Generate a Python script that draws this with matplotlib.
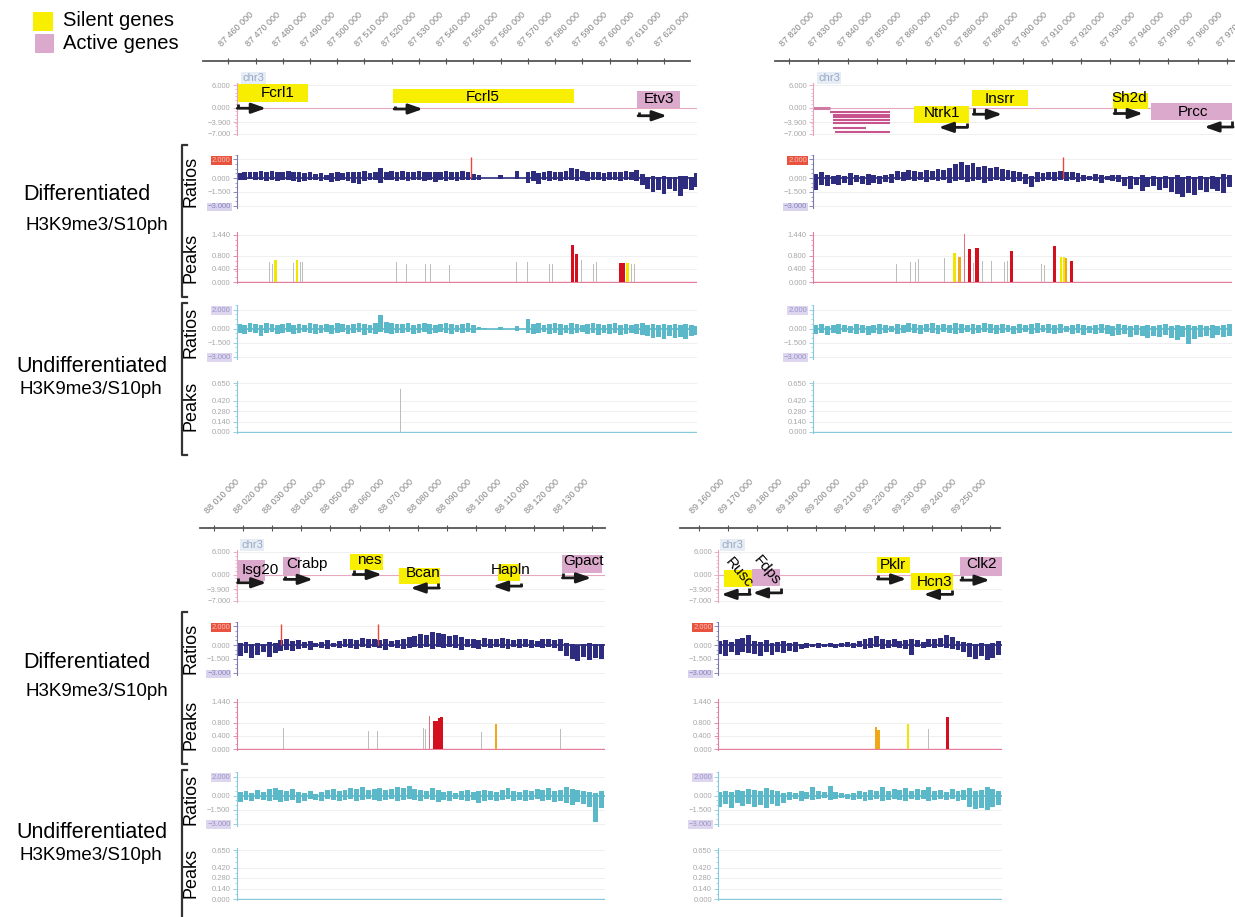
import numpy as np
import matplotlib
matplotlib.use('Agg')
import matplotlib.pyplot as plt
import matplotlib.transforms as mtransforms
from matplotlib.patches import Rectangle
from matplotlib.ticker import MultipleLocator

plt.rcParams['font.family'] = ['Liberation Sans', 'DejaVu Sans']

#==================================================================================================================#
# DATA (genomic positions in kb on chr3, values as read from the browser tracks)
#==================================================================================================================#

# ruler ticks of each panel (A: top-left, B: top-right, C: bottom-left, D: bottom-right)
TICKS_A = list(range(87460, 87621, 10))
TICKS_B = list(range(87820, 87971, 10))
TICKS_C = list(range(88010, 88141, 10))
TICKS_D = list(range(89160, 89261, 10))
N_LABELLED = [17, 16, 13, 10]

# visible window of the tracks and of the ruler line
VIEW_START = [87463.2, 87828.2, 88017.8, 89166.5]
VIEW_END = [87632.0, 87971.7, 88144.3, 89264.0]
RULER_START = [87450.8, 87815.1, 88005.2, 89153.4]
RULER_END = [87629.5, 87975.0, 88144.3, 89263.4]

# genes: name, start, end, box low, box high, status, strand, tss, arrow top, arrow bottom, label x, label y, rotation
GENES_A = [
    ('Fcrl1', 87463.2, 87489.3, 1.5, 6.2, 'silent', 1, 87463.6, 0.9, -0.2, 87478.1, 3.9, 0),
    ('Fcrl5', 87520.5, 87587.0, 1.2, 4.9, 'silent', 1, 87521.2, 0.4, -0.4, 87553.6, 2.8, 0),
    ('Etv3', 87610.1, 87625.9, -0.1, 4.4, 'active', 1, 87610.8, -1.3, -2.2, 87618.2, 2.2, 0),
]
GENES_B = [
    ('Ntrk1', 87862.8, 87881.7, -4.2, 0.3, 'silent', -1, 87880.8, -4.0, -5.3, 87872.3, -1.5, 0),
    ('Insrr', 87882.5, 87902.0, 0.3, 4.6, 'silent', 1, 87883.4, 0.0, -1.8, 87892.3, 2.2, 0),
    ('Sh2d', 87931.1, 87943.1, -0.5, 4.0, 'silent', 1, 87931.7, 0.0, -1.6, 87936.6, 2.4, 0),
    ('Prcc', 87943.9, 87971.7, -3.3, 1.2, 'active', -1, 87971.9, -3.7, -5.2, 87958.5, -1.1, 0),
]
GENES_C = [
    ('Isg20', 88017.8, 88027.5, -1.8, 4.0, 'active', 1, 88018.4, -0.9, -2.2, 88025.8, 1.3, 0),
    ('Crabp', 88033.8, 88039.5, 0.0, 4.6, 'active', 1, 88034.4, -0.5, -1.3, 88041.8, 2.8, 0),
    ('nes', 88056.7, 88068.2, 1.3, 5.5, 'silent', 1, 88058.1, 1.3, 0.0, 88063.4, 4.0, 0),
    ('Bcan', 88073.7, 88087.6, -2.4, 1.8, 'silent', -1, 88087.1, -2.2, -3.6, 88081.7, 0.3, 0),
    ('Hapln', 88107.7, 88115.1, -1.8, 2.7, 'silent', -1, 88115.4, -2.2, -3.1, 88111.9, 1.1, 0),
    ('Gpact', 88129.4, 88143.2, 0.4, 5.3, 'active', 1, 88130.0, 0.4, -0.9, 88136.9, 3.5, 0),
]
GENES_D = [
    ('Rusc', 89168.5, 89178.0, -3.3, 1.3, 'silent', -1, 89177.2, -3.6, -5.3, 89173.6, 0.45, -50),
    ('Fdps', 89178.0, 89187.8, -3.1, 1.5, 'active', -1, 89188.0, -3.6, -4.9, 89183.4, 1.0, -50),
    ('Pklr', 89221.0, 89232.5, 0.5, 4.7, 'silent', 1, 89221.6, 0.0, -1.2, 89226.7, 2.5, 0),
    ('Hcn3', 89232.7, 89247.4, -4.0, 0.4, 'silent', -1, 89246.8, -4.0, -5.3, 89241.1, -2.0, 0),
    ('Clk2', 89249.7, 89264.0, -0.3, 4.7, 'active', 1, 89250.3, -0.3, -1.5, 89257.2, 2.7, 0),
]

# transcript models drawn as thin lines in panel B
TX_START_B = [87828.2, 87834.0, 87835.0, 87835.0, 87835.0, 87835.0, 87835.0, 87835.7]
TX_END_B = [87834.0, 87854.5, 87854.5, 87854.5, 87854.5, 87854.5, 87846.3, 87854.5]
TX_VAL_B = [0.0, -1.3, -2.0, -2.6, -3.3, -4.1, -5.5, -6.4]

# ratio tracks: 2 kb bins, upper / lower value of each bin (in tenths)
RATIO_START = [87464, 87829, 88019, 89167]
RATIO_STEP = 2.0

DIFF_HI_A = [5, 6, 7, 6, 8, 7, 8, 6, 7, 8, 6, 7, 5, 6, 4, 5, 3, 5, 6, 5, 6, 7, 6, 8, 5, 7, 11, 7, 8, 7,
             8, 6, 7, 8, 6, 7, 6, 7, 8, 6, 7, 8, 7, 4, 3, 0, 0, 0, 3, 0, 0, 8, 0, 7, 8, 5, 7, 8, 6, 6,
             8, 11, 10, 8, 7, 6, 7, 5, 6, 7, 6, 8, 7, 9, 4, 1, 2, 1, 2, 1, 1, 2, 2, 1, 5]
DIFF_LO_A = [-2, -2, -1, -2, -2, -3, -2, -3, -2, -2, -3, -4, -3, -2, -2, -3, -2, -4, -3, -2,
             -3, -5, -6, -3, -2, -2, -5, -2, -2, -3, -2, -3, -2, -2, -3, -2, -4, -2, -3, -2,
             -3, -2, -2, -2, -2, 0, 0, 0, -1, 0, 0, -1, 0, -5, -3, -6, -2, -3, -2, -3,
             -2, -2, -3, -2, -3, -2, -2, -3, -2, -2, -3, -2, -2, -3, -8, -12, -15, -13, -17, -12,
             -14, -19, -12, -13, -10]
DIFF_HI_B = [4, 6, 3, 2, 3, 2, 5, 3, 2, 4, 3, 2, 3, 4,
             8, 7, 9, 8, 7, 9, 8, 10, 9, 11, 15, 17, 14, 16, 12, 13, 11, 12, 10, 9, 8, 7, 4, 2,
             6, 5, 7, 6, 8, 7, 6, 5, 3, 2, 4, 3, 2, 3, 3,
             1, 2, 1, 3, 1, 2, 1, 2, 1, 3, 1, 2, 1, 2, 1, 2, 1, 4, 3]
DIFF_LO_B = [-13, -7, -9, -6, -8, -5, -7, -4, -6, -8, -5, -6, -4, -5,
             -2, -3, -2, -3, -2, -4, -2, -3, -2, -5, -3, -2, -4, -3, -2, -5, -3, -2, -3, -2, -4, -3, -6, -10,
             -4, -3, -2, -3, -2, -3, -2, -4, -3, -2, -3, -5, -2, -3, -4,
             -9, -12, -8, -14, -10, -9, -13, -11, -15, -17, -20, -16, -18, -13, -15, -12, -14, -16, -10]
DIFF_HI_C = [2, 3, 1, 2, 1, 3, 2, 5, 6, 4, 5, 3, 4, 2, 3, 5, 2, 4,
             6, 7, 5, 8, 6, 7, 5, 6, 4, 5, 6, 9, 10, 12, 11, 14, 13, 12, 10, 11, 9,
             6, 7, 5, 8, 6, 7, 8, 6, 5, 7, 6, 5, 4, 6, 7, 5, 6, 2, 1, 0, 1, 2, 1, 1]
DIFF_LO_C = [-12, -9, -14, -11, -8, -13, -9, -6, -5, -6, -4, -3, -5, -2, -3, -4, -2, -3,
             -2, -3, -4, -2, -3, -2, -3, -5, -2, -3, -4, -3, -2, -3, -2, -4, -2, -3, -2, -3, -5,
             -2, -3, -4, -2, -3, -2, -3, -4, -2, -3, -2, -3, -2, -3, -2, -3, -6,
             -12, -15, -17, -13, -16, -14, -15]
DIFF_HI_D = [4, 5, 3, 6, 8, 11, 4, 3, 5, 2, 3, 4, 2, 3, 1, 2, 1, 2, 1, 2, 1, 2, 3, 2, 4, 6, 8, 10, 7, 5,
             6, 4, 5, 6, 5, 3, 6, 7, 8, 11, 9, 4, 3, 2, 1, 2, 1, 2, 4]
DIFF_LO_D = [-10, -12, -8, -11, -7, -9, -10, -12, -8, -11, -7, -9, -6, -8, -4, -3, -2, -3, -2, -2,
             -3, -2, -2, -3, -2, -4, -3, -2, -4, -3, -2, -3, -4, -11, -2, -3, -2, -3, -2, -3,
             -4, -5, -8, -13, -15, -12, -16, -14, -11]

UND_HI_A = [5, 4, 6, 5, 4, 6, 5, 4, 5, 6, 4, 5, 4, 6, 5, 4, 5, 4, 6, 5, 4, 5, 6, 5, 4, 6, 14, 7, 6, 5,
            5, 6, 4, 5, 6, 5, 4, 5, 6, 5, 4, 5, 6, 4, 2, 1, 0, 0, 2, 0, 0, 3, 0,
            10, 5, 6, 4, 5, 6, 5, 4, 6, 5, 4, 5, 6, 5, 4, 5, 6, 4, 5, 4, 5, 6, 4, 5, 4, 5, 4, 5, 4, 5, 4, 3]
UND_LO_A = [-5, -6, -4, -5, -8, -5, -4, -6, -5, -4, -6, -5, -4, -5, -6, -5, -4, -6, -5, -4,
            -6, -5, -4, -7, -5, -6, -4, -5, -6, -5, -5, -4, -6, -5, -4, -6, -5, -4, -5, -6, -4, -5, -4, -5, -2, -1,
            0, 0, -2, 0, 0, -3, 0,
            -5, -6, -5, -4, -6, -5, -7, -5, -6, -5, -4, -6, -5, -7, -5, -6, -5, -7, -6, -5,
            -6, -7, -8, -10, -9, -11, -8, -10, -9, -11, -8, -7]
UND_HI_B = [4, 5, 3, 4, 5, 4, 3, 5, 4, 3, 4, 5, 4, 3, 5, 4, 6, 5, 4, 5, 6, 4, 5, 4, 6, 5, 4, 5, 4, 6,
            5, 4, 5, 4, 3, 5, 4, 5, 6, 4, 5, 4, 5, 3, 4, 5, 4, 3, 4, 5, 4, 3, 5, 4, 3, 4, 3, 4, 3, 4,
            5, 3, 4, 3, 4, 3, 4, 3, 4, 3, 4, 5]
UND_LO_B = [-6, -5, -7, -5, -6, -4, -5, -6, -5, -7, -5, -6, -5, -4, -6, -5, -4, -5, -6, -4,
            -5, -6, -4, -5, -6, -5, -4, -6, -5, -4, -5, -6, -5, -4, -6, -5, -4, -6, -5, -4,
            -5, -6, -5, -4, -6, -5, -7, -5, -6, -5, -6, -8, -7, -6, -9, -7, -8, -10, -8, -9,
            -7, -10, -12, -9, -16, -11, -9, -8, -10, -7, -9, -8]
UND_HI_C = [4, 5, 3, 6, 4, 7, 8, 6, 5, 7, 4, 3, 5, 2, 4, 6, 7, 5, 6, 8, 7, 9, 6, 7, 8, 6, 7, 9, 8, 10,
            7, 6, 5, 8, 6, 4, 5, 3, 5, 6, 4, 5, 6, 5, 4, 6, 8, 5, 4, 6, 5, 7, 6, 8, 5, 6, 9, 7, 6, 5,
            4, 3, 5]
UND_LO_C = [-7, -5, -6, -4, -5, -6, -5, -7, -6, -5, -8, -6, -4, -5, -6, -4, -5, -6, -5, -4,
            -6, -5, -4, -5, -6, -5, -4, -6, -5, -4, -5, -6, -4, -5, -7, -5, -6, -4, -5, -6,
            -5, -8, -6, -5, -6, -5, -4, -6, -5, -6, -5, -4, -6, -5, -7, -6, -8, -10, -7, -9,
            -12, -28, -13]
UND_HI_D = [4, 5, 4, 6, 5, 7, 6, 5, 8, 6, 5, 3, 4, 3, 5, 4, 9, 5, 4, 10, 4, 3, 2, 3, 5, 4, 6, 5, 9, 5,
            7, 6, 8, 5, 7, 6, 9, 5, 6, 4, 7, 5, 6, 8, 5, 6, 9, 7, 5]
UND_LO_D = [-12, -9, -13, -8, -11, -9, -12, -10, -13, -9, -11, -8, -5, -4, -6, -4, -5, -4, -3, -5,
            -4, -3, -4, -5, -4, -6, -5, -4, -6, -5, -4, -5, -6, -4, -5, -4, -6, -5, -4, -5,
            -4, -6, -5, -12, -14, -13, -15, -12, -10]

# ratio values above the scale (drawn in red)
OUTLIERS = [[(87549.1, 2.3)], [(87914.0, 2.3)], [(88033.0, 2.3), (88066.5, 2.3)], []]

# peaks: position, height, class (n = not significant, y / o / r = increasing significance, p = thin red)
PEAKS_DIFF_A = [(87475.3, 0.61, 'n'), (87476.3, 0.56, 'n'), (87477.4, 0.66, 'y'), (87483.9, 0.58, 'n'),
                (87485.3, 0.66, 'y'), (87486.6, 0.61, 'n'), (87487.3, 0.60, 'n'), (87521.6, 0.61, 'n'),
                (87525.5, 0.54, 'n'), (87532.6, 0.54, 'n'), (87534.3, 0.54, 'n'), (87541.4, 0.51, 'n'),
                (87565.9, 0.61, 'n'), (87569.9, 0.61, 'n'), (87577.9, 0.56, 'n'), (87578.9, 0.56, 'n'),
                (87586.5, 1.12, 'r'), (87587.9, 0.86, 'r'), (87589.8, 0.68, 'n'), (87594.0, 0.56, 'n'),
                (87595.3, 0.61, 'n'), (87604.1, 0.58, 'r'), (87605.1, 0.58, 'r'), (87606.5, 0.59, 'y'),
                (87608.1, 0.56, 'n'), (87609.0, 0.54, 'n')]
PEAKS_DIFF_B = [(87856.9, 0.55, 'n'), (87861.7, 0.62, 'n'), (87863.3, 0.60, 'n'), (87864.3, 0.70, 'n'),
                (87873.2, 0.74, 'n'), (87876.6, 0.87, 'y'), (87878.4, 0.77, 'o'), (87880.0, 1.47, 'p'),
                (87881.8, 0.99, 'r'), (87883.2, 0.58, 'n'), (87884.4, 1.02, 'r'), (87886.4, 0.65, 'n'),
                (87889.2, 0.65, 'n'), (87893.8, 0.60, 'n'), (87894.9, 0.65, 'n'), (87896.3, 0.94, 'r'),
                (87906.6, 0.55, 'n'), (87907.4, 0.52, 'n'), (87911.0, 1.09, 'r'), (87913.2, 0.77, 'y'),
                (87914.2, 0.77, 'y'), (87914.9, 0.74, 'o'), (87916.9, 0.63, 'r')]
PEAKS_DIFF_C = [(88033.8, 0.65, 'n'), (88063.0, 0.55, 'n'), (88066.2, 0.55, 'n'), (88082.1, 0.63, 'n'),
                (88082.8, 0.60, 'n'), (88084.2, 1.01, 'p'), (88085.7, 0.86, 'r'), (88086.7, 0.86, 'r'),
                (88087.4, 0.94, 'r'), (88088.1, 0.97, 'r'), (88101.9, 0.53, 'n'), (88106.9, 0.76, 'o'),
                (88129.1, 0.60, 'n')]
PEAKS_DIFF_D = [(89220.8, 0.68, 'o'), (89221.7, 0.58, 'o'), (89231.8, 0.76, 'y'), (89238.8, 0.60, 'n'),
                (89245.5, 0.97, 'r')]
PEAKS_UND_A = [(87523.3, 0.58, 'n')]

#==================================================================================================================#
# LAYOUT AND STYLE
#==================================================================================================================#

W, H = 1235, 917
TICK0_PX = [228.3, 789.3, 214.0, 699.3]     # pixel of first ruler tick
PX_PER_KB = [2.723, 2.916, 2.911, 2.907]
Y_OFF = [0, 0, 467, 467]

YELLOW, PINK = '#f7ee00', '#dba9cc'
NAVY, CYAN = '#2e2c7e', '#5bb8c9'
PEAK_COL = {'n': '#bdbdbd', 'y': '#f2e600', 'o': '#f0a818', 'r': '#d4101e', 'p': '#e8707a'}
PEAK_W = {'n': 1.0, 'y': 2.6, 'o': 2.6, 'r': 3.2, 'p': 1.0}
ARROW_PX = 28

fig = plt.figure(figsize=(W / 100, H / 100), dpi=100)


def rect(x0, y0, x1, y1):
    return [x0 / W, 1 - y1 / H, (x1 - x0) / W, (y1 - y0) / H]


def xpx(p, pos):
    ticks = [TICKS_A, TICKS_B, TICKS_C, TICKS_D][p]
    return TICK0_PX[p] + (pos - ticks[0]) * PX_PER_KB[p]


def fmt(v):
    return f'{v:.3f}'.replace('-', '\u2212')


def track(p, top, bot, ylim, col, ticks, minor):
    ax = fig.add_axes(rect(xpx(p, VIEW_START[p]), top + Y_OFF[p], xpx(p, VIEW_END[p]), bot + Y_OFF[p]))
    ax.set_xlim(VIEW_START[p], VIEW_END[p])
    ax.set_ylim(*ylim)
    for s in ['top', 'right', 'bottom']:
        ax.spines[s].set_visible(False)
    ax.spines['left'].set_color(col)
    ax.spines['left'].set_linewidth(0.8)
    ax.patch.set_alpha(0)
    ax.tick_params(axis='x', bottom=False, labelbottom=False)
    ax.set_yticks(ticks, [fmt(t) for t in ticks])
    ax.yaxis.set_minor_locator(MultipleLocator(minor))
    ax.tick_params(axis='y', which='major', colors=col, labelcolor='#a8a8a8', labelsize=5.5,
                   length=3, width=0.6, pad=1.5)
    ax.tick_params(axis='y', which='minor', colors=col, length=1.8, width=0.5)
    ax.grid(axis='y', color='#ececec', lw=0.6)
    ax.set_axisbelow(True)
    return ax


def label_boxes(ax, top_fc, top_tc, bot_fc, bot_tc):
    for lab in ax.get_yticklabels():
        if lab.get_text() == '2.000':
            lab.set_bbox(dict(facecolor=top_fc, edgecolor='none', pad=0.6))
            lab.set_color(top_tc)
        if lab.get_text() == '\u22123.000':
            lab.set_bbox(dict(facecolor=bot_fc, edgecolor='none', pad=0.6))
            lab.set_color(bot_tc)


# overlay for legend, brackets and row labels
ov = fig.add_axes([0, 0, 1, 1])
ov.set_xlim(0, W)
ov.set_ylim(H, 0)
ov.axis('off')

ov.add_patch(Rectangle((33, 11.5), 20, 19, color=YELLOW, lw=0))
ov.add_patch(Rectangle((35, 34), 19, 19, color=PINK, lw=0))
ov.text(63, 21, 'Silent genes', fontsize=14.5, va='center')
ov.text(63, 43.5, 'Active genes', fontsize=14.5, va='center')

for yo in [0, 467]:
    for t, b in [(145, 297), (303, 455)]:
        ov.plot([187, 182, 182, 187], [t + yo, t + yo, b + yo, b + yo], color='#333333', lw=1.6)
    ov.text(87, 195 + yo, 'Differentiated', fontsize=15.5, ha='center', va='center')
    ov.text(97, 225 + yo, 'H3K9me3/S10ph', fontsize=13.5, ha='center', va='center')
    ov.text(92, 366 + yo, 'Undifferentiated', fontsize=15.5, ha='center', va='center')
    ov.text(91, 389 + yo, 'H3K9me3/S10ph', fontsize=13.5, ha='center', va='center')
    for y, s in [(181, 'Ratios'), (258, 'Peaks'), (332, 'Ratios'), (406, 'Peaks')]:
        ov.text(191, y + yo, s, fontsize=13, rotation=90, ha='center', va='center')

#==================================================================================================================#
# PANELS
#==================================================================================================================#

all_ticks = [TICKS_A, TICKS_B, TICKS_C, TICKS_D]
all_genes = [GENES_A, GENES_B, GENES_C, GENES_D]
diff_hi = [DIFF_HI_A, DIFF_HI_B, DIFF_HI_C, DIFF_HI_D]
diff_lo = [DIFF_LO_A, DIFF_LO_B, DIFF_LO_C, DIFF_LO_D]
und_hi = [UND_HI_A, UND_HI_B, UND_HI_C, UND_HI_D]
und_lo = [UND_LO_A, UND_LO_B, UND_LO_C, UND_LO_D]
peaks_diff = [PEAKS_DIFF_A, PEAKS_DIFF_B, PEAKS_DIFF_C, PEAKS_DIFF_D]
peaks_und = [PEAKS_UND_A, [], [], []]

for p in range(4):
    # ruler
    ax = fig.add_axes(rect(xpx(p, RULER_START[p]), Y_OFF[p], xpx(p, RULER_END[p]), 60.5 + Y_OFF[p]))
    ax.set_xlim(RULER_START[p], RULER_END[p])
    ax.set_ylim(0, 1)
    for s in ['top', 'right', 'left']:
        ax.spines[s].set_visible(False)
    ax.spines['bottom'].set_color('#555555')
    ax.spines['bottom'].set_linewidth(1.3)
    ax.patch.set_alpha(0)
    ax.set_yticks([])
    ax.set_xticks(all_ticks[p])
    ax.tick_params(axis='x', direction='inout', length=4, width=0.8, colors='#555555', labelbottom=False)
    trans = mtransforms.offset_copy(ax.get_xaxis_transform(), fig=fig, x=-5, y=12, units='dots')
    for t in all_ticks[p][:N_LABELLED[p]]:
        ax.text(t, 0, f'{t * 1000:,}'.replace(',', ' '), transform=trans, rotation=45,
                rotation_mode='anchor', ha='left', va='bottom', fontsize=6.5, color='#858585')

    # gene track
    ax = track(p, 82.75, 135.25, (-7.4, 6.6), '#e9a3bf', [6, 0, -3.9, -7], 1.0)
    ax.axhline(0, color='#e6a7c0', lw=0.8, zorder=1)
    ax.text(0.012, 1.0, 'chr3', transform=ax.transAxes, fontsize=8, color='#97a8c6', va='bottom',
            bbox=dict(facecolor='#e7edf5', edgecolor='none', pad=0.8))
    if p == 1:
        ax.hlines(TX_VAL_B[0], TX_START_B[0], TX_END_B[0], color='#d07aa6', lw=2.2)
        ax.hlines(TX_VAL_B[1:], TX_START_B[1:], TX_END_B[1:], color='#c8548e', lw=1.5)
    L = ARROW_PX / PX_PER_KB[p]
    for (name, s, e, lo, hi, status, strand, tss, atop, abot, lx, ly, rot) in all_genes[p]:
        ax.add_patch(Rectangle((s, lo), e - s, hi - lo, color=YELLOW if status == 'silent' else PINK,
                               lw=0, zorder=2))
        ax.plot([tss, tss], [atop, abot], color='#1a1a1a', lw=2, solid_capstyle='butt', zorder=3,
                clip_on=False)
        ax.annotate('', xy=(tss + strand * L, abot), xytext=(tss - strand * 0.3, abot),
                    arrowprops=dict(arrowstyle='-|>,head_length=0.85,head_width=0.3', color='#1a1a1a',
                                    lw=2, shrinkA=0, shrinkB=0), zorder=3)
        ax.text(lx, ly, name, fontsize=11, ha='center', va='center', rotation=rot, zorder=4)

    # ratio, differentiated
    ax = track(p, 154.75, 207.8, (-3.2, 2.5), '#7a78b0', [2, 0, -1.5, -3], 0.5)
    label_boxes(ax, '#e8523f', '#f6c3b8', '#d9d3ee', '#8c86c0')
    x = RATIO_START[p] + RATIO_STEP * np.arange(len(diff_hi[p]))
    hi = np.array(diff_hi[p]) / 10
    lo = np.array(diff_lo[p]) / 10
    ax.axhline(0, color=NAVY, lw=1.2)
    ax.bar(x, hi - lo, bottom=lo, width=RATIO_STEP * 0.85, color=NAVY, lw=0)
    for pos, v in OUTLIERS[p]:
        ax.vlines(pos, 0, v, color='#e8483a', lw=1.0, zorder=3)

    # peaks, differentiated
    ax = track(p, 232, 283, (-0.03, 1.52), '#e37d99', [1.44, 0.8, 0.4, 0.0], 0.16)
    ax.axhline(0, color='#e37d99', lw=1.0)
    for pos, v, k in peaks_diff[p]:
        ax.bar(pos, v, width=PEAK_W[k] / PX_PER_KB[p], color=PEAK_COL[k], lw=0, zorder=2)

    # ratio, undifferentiated
    ax = track(p, 305, 358.6, (-3.2, 2.5), '#88c8dc', [2, 0, -1.5, -3], 0.5)
    label_boxes(ax, '#ddd6ee', '#9a94c8', '#ddd6ee', '#9a94c8')
    x = RATIO_START[p] + RATIO_STEP * np.arange(len(und_hi[p]))
    hi = np.array(und_hi[p]) / 10
    lo = np.array(und_lo[p]) / 10
    ax.axhline(0, color=CYAN, lw=1.2)
    ax.bar(x, hi - lo, bottom=lo, width=RATIO_STEP * 0.85, color=CYAN, lw=0)

    # peaks, undifferentiated
    ax = track(p, 381, 432.75, (-0.01, 0.68), '#88c8dc', [0.65, 0.42, 0.28, 0.14, 0.0], 0.07)
    ax.axhline(0, color='#88c8dc', lw=1.0)
    for pos, v, k in peaks_und[p]:
        ax.bar(pos, v, width=PEAK_W[k] / PX_PER_KB[p], color=PEAK_COL[k], lw=0, zorder=2)

fig.savefig('out.png', dpi=100)
